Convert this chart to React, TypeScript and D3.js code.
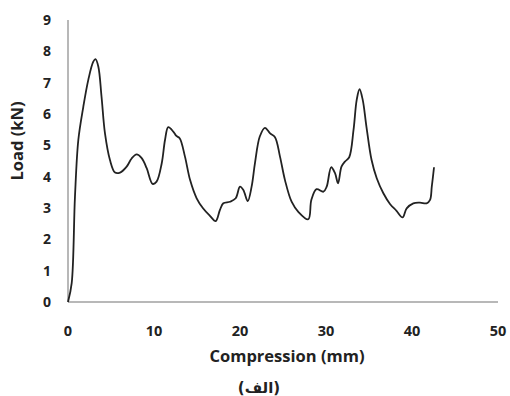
import React from 'react';
import * as d3 from 'd3';

// compression (mm) vs load (kN)
const compression = [
  0, 0.43, 0.81, 1.2, 1.78, 2.36, 2.94, 3.2, 3.53, 3.9, 4.3, 4.88, 5.47, 6.05, 6.82, 7.4, 7.98, 8.57,
  9.15, 9.84, 10.3, 10.9, 11.28, 11.66, 12.24, 12.6, 13.0, 13.6, 14.2, 14.96, 15.7, 16.5, 17.17, 17.67,
  18.06, 18.84, 19.5, 20.0, 20.4, 20.9, 21.35, 21.74, 22.3, 22.9, 23.5, 24.07, 24.65, 25.23, 26.0, 26.78,
  27.94, 28.3, 28.9, 29.7, 30.08, 30.6, 31.05, 31.4, 31.8, 32.2, 32.7, 33.2, 33.57, 33.9, 34.27, 34.7,
  35.3, 35.9, 36.67, 37.44, 38.2, 38.9, 39.38, 40.15, 40.93, 41.7, 42.1, 42.3, 42.56,
];
const load = [
  0, 0.6, 3.36, 5.17, 6.23, 7.09, 7.67, 7.75, 7.51, 6.55, 5.38, 4.53, 4.13, 4.13, 4.32, 4.58, 4.71, 4.59,
  4.27, 3.77, 3.84, 4.43, 5.17, 5.58, 5.44, 5.3, 5.22, 4.64, 3.89, 3.31, 2.99, 2.75, 2.58, 2.94,
  3.15, 3.2, 3.31, 3.68, 3.57, 3.22, 3.68, 4.43, 5.28, 5.56, 5.38, 5.26, 4.64, 3.89, 3.2, 2.88,
  2.64, 3.26, 3.6, 3.52, 3.68, 4.3, 4.11, 3.79, 4.32, 4.48, 4.62, 5.49, 6.45, 6.79, 6.45, 5.6,
  4.53, 3.95, 3.47, 3.13, 2.91, 2.7, 2.99, 3.15, 3.17, 3.15, 3.26, 3.68, 4.3,
];
const xTicks = [0, 10, 20, 30, 40, 50];
const yTicks = [0, 1, 2, 3, 4, 5, 6, 7, 8, 9];

const width = 510;
const height = 396;
const margin = { top: 20, right: 12, bottom: 94, left: 68 };

const App = () => {
  const x = d3.scaleLinear().domain([0, 50]).range([margin.left, width - margin.right]);
  const y = d3.scaleLinear().domain([0, 9]).range([height - margin.bottom, margin.top]);

  const points: [number, number][] = compression.map((c, i) => [c, load[i]]);
  const line = d3.line<[number, number]>()
    .x(d => x(d[0]))
    .y(d => y(d[1]))
    .curve(d3.curveCatmullRom.alpha(0.5));

  const font = '"Open Sans", sans-serif';

  return (
    <svg width={width} height={height} style={{ position: 'absolute', left: 0, top: 0, background: '#fff' }}>
      {/* axes */}
      <line x1={x(0)} x2={x(0)} y1={y(0)} y2={y(9)} stroke="#a0a0a0" strokeWidth={1.5} />
      <line x1={x(0)} x2={x(50)} y1={y(0)} y2={y(0)} stroke="#a0a0a0" strokeWidth={1.5} />

      {yTicks.map(t => (
        <text key={'y' + t} x={51} y={y(t)} dy="0.36em" textAnchor="end"
          fontFamily={font} fontWeight="bold" fontSize={14} fill="#222">{t}</text>
      ))}
      {xTicks.map(t => (
        <text key={'x' + t} x={x(t)} y={336} textAnchor="middle"
          fontFamily={font} fontWeight="bold" fontSize={14.5} fill="#222">{t}</text>
      ))}

      <text x={287} y={362} textAnchor="middle" fontFamily={font} fontWeight="bold" fontSize={16.5} fill="#222">
        Compression (mm)
      </text>
      <text transform="translate(23,141) rotate(-90)" textAnchor="middle"
        fontFamily={font} fontWeight="bold" fontSize={16.5} fill="#222">
        Load (kN)
      </text>
      <text x={259} y={393} textAnchor="middle" fontFamily='"DejaVu Sans", sans-serif' fontWeight="bold" fontSize={15} fill="#222">
        (الف)
      </text>

      <path d={line(points) ?? ''} fill="none" stroke="#222" strokeWidth={1.8} strokeLinejoin="round" />
    </svg>
  );
};

export default App;
